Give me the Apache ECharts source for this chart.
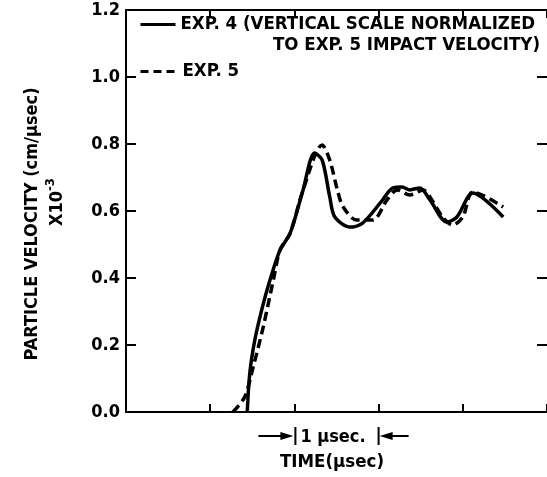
<!DOCTYPE html>
<html><head><meta charset="utf-8">
<script src="https://cdn.jsdelivr.net/npm/echarts@6/dist/echarts.min.js"></script>
<style>html,body{margin:0;padding:0;background:#fff}#c{width:547px;height:477px}</style>
</head><body><div id="c"></div>
<script>
// Time in µs (from axis origin), particle velocity (cm/µsec x10^-3)
const exp4X = [1.44,1.47,1.53,1.62,1.71,1.83,1.95,2.10,2.24,2.33,2.42,2.48,2.66,2.81,3.02,3.17,3.28,3.37,3.49,3.61,3.81,3.93,4.12,4.48];
const exp4Y = [0.00,0.116,0.215,0.313,0.394,0.484,0.534,0.66,0.773,0.752,0.642,0.582,0.552,0.564,0.624,0.669,0.672,0.663,0.669,0.633,0.567,0.582,0.654,0.582];
const exp5X = [1.27,1.41,1.51,1.63,1.75,1.83,1.95,2.10,2.33,2.42,2.51,2.58,2.74,2.93,3.10,3.22,3.37,3.53,3.61,3.76,3.88,4.00,4.12,4.48];
const exp5Y = [0.00,0.045,0.134,0.254,0.394,0.484,0.534,0.66,0.797,0.752,0.663,0.612,0.573,0.573,0.633,0.663,0.648,0.663,0.642,0.582,0.558,0.582,0.657,0.612];
const yTicks = ['0.0','0.2','0.4','0.6','0.8','1.0','1.2'];
const name4 = 'EXP. 4 (VERTICAL SCALE NORMALIZED';
const name4b = 'TO EXP. 5 IMPACT VELOCITY)';
const name5 = 'EXP. 5';

const FONT = '"DejaVu Sans Condensed","Liberation Sans Narrow","DejaVu Sans",sans-serif';
const FS = 18.5;
const chart = echarts.init(document.getElementById('c'));
const pair = (xs, ys) => xs.map((x, i) => [x, ys[i]]);
const axisLine = {show: true, onZero: false, lineStyle: {color: '#000', width: 2}};
const tick = (len) => ({show: true, inside: true, length: len, lineStyle: {color: '#000', width: 2}});
const legText = {fontFamily: FONT, fontSize: FS, fontWeight: 'bold', color: '#000'};
chart.setOption({
  animation: false,
  grid: {left: 126, right: 0, top: 10, bottom: 65},
  legend: [
    {data: [name4], left: 139, top: 15, padding: 0, itemWidth: 35, itemHeight: 14, itemGap: 0,
     itemStyle: {opacity: 0}, lineStyle: {color: '#000', width: 3}, textStyle: legText},
    {data: [name5], left: 139, top: 62, padding: 0, itemWidth: 37, itemHeight: 14, itemGap: 0,
     itemStyle: {opacity: 0}, lineStyle: {color: '#000', width: 3, type: [8, 5]}, textStyle: legText}
  ],
  xAxis: [
    {type: 'value', min: 0, max: 5, interval: 1, position: 'bottom',
     axisLine: axisLine, axisTick: tick(8), axisLabel: {show: false}, splitLine: {show: false}},
    {type: 'value', min: 0, max: 5, interval: 1, position: 'top',
     axisLine: axisLine, axisTick: tick(8), axisLabel: {show: false}, splitLine: {show: false}}
  ],
  yAxis: [
    {type: 'value', min: 0, max: 1.2, interval: 0.2, position: 'left',
     axisLine: axisLine, axisTick: tick(10),
     axisLabel: {margin: 6, fontFamily: FONT, fontSize: 18, fontWeight: 'bold', color: '#000',
       formatter: (v) => yTicks[Math.round(v / 0.2)]},
     splitLine: {show: false}},
    {type: 'value', min: 0, max: 1.2, interval: 0.2, position: 'right',
     axisLine: {show: false, onZero: false}, axisTick: tick(10),
     axisLabel: {show: false}, splitLine: {show: false}}
  ],
  series: [
    {name: name4, type: 'line', data: pair(exp4X, exp4Y), symbol: 'none', smooth: 0.3,
     lineStyle: {color: '#000', width: 3.5}, itemStyle: {color: '#000'}},
    {name: name5, type: 'line', data: pair(exp5X, exp5Y), symbol: 'none', smooth: 0.3,
     lineStyle: {color: '#000', width: 3.5, type: [9, 5]}, itemStyle: {color: '#000'}}
  ]
});

const p1 = chart.convertToPixel({xAxisIndex: 0, yAxisIndex: 0}, [2, 0]);
const p2 = chart.convertToPixel({xAxisIndex: 0, yAxisIndex: 0}, [3, 0]);
const ay = p1[1] + 24;
const ln = (x1, y1, x2, y2, w) => ({type: 'line', shape: {x1, y1, x2, y2}, style: {stroke: '#000', lineWidth: w || 2}});
const tri = (pts) => ({type: 'polygon', shape: {points: pts}, style: {fill: '#000'}});
const F = 'bold ' + FS + 'px ' + FONT;
chart.setOption({
  graphic: [
    {type: 'text', x: 540, y: 45, style: {text: name4b, font: F, fill: '#000', align: 'right', verticalAlign: 'middle'}},
    {type: 'text', x: 32, y: 224, rotation: Math.PI / 2,
     style: {text: 'PARTICLE VELOCITY (cm/\u00b5sec)', font: 'bold 18px ' + FONT, fill: '#000', align: 'center', verticalAlign: 'middle'}},
    {type: 'text', x: 57, y: 202, rotation: Math.PI / 2,
     style: {text: '{a|X10}{s|-3}', font: F, fill: '#000', align: 'center', verticalAlign: 'middle',
       rich: {a: {font: 'bold 18px ' + FONT, fill: '#000'}, s: {font: 'bold 13px ' + FONT, fill: '#000', verticalAlign: 'top', padding: [0,0,12,0]}}}},
    ln(p1[0] - 36, ay, p1[0] - 6, ay),
    tri([[p1[0] - 14, ay - 4], [p1[0] - 1, ay], [p1[0] - 14, ay + 4]]),
    ln(p1[0] + 1, ay - 9, p1[0] + 1, ay + 9),
    {type: 'text', x: p1[0] + 6, y: ay + 1, style: {text: '1 \u00b5sec.', font: 'bold 18px ' + FONT, fill: '#000', verticalAlign: 'middle'}},
    ln(p2[0], ay - 9, p2[0], ay + 9),
    tri([[p2[0] + 14, ay - 4], [p2[0] + 1, ay], [p2[0] + 14, ay + 4]]),
    ln(p2[0] + 6, ay, p2[0] + 30, ay),
    {type: 'text', x: 332, y: 462, style: {text: 'TIME(\u00b5sec)', font: F, fill: '#000', align: 'center', verticalAlign: 'middle'}}
  ]
});
</script></body></html>
